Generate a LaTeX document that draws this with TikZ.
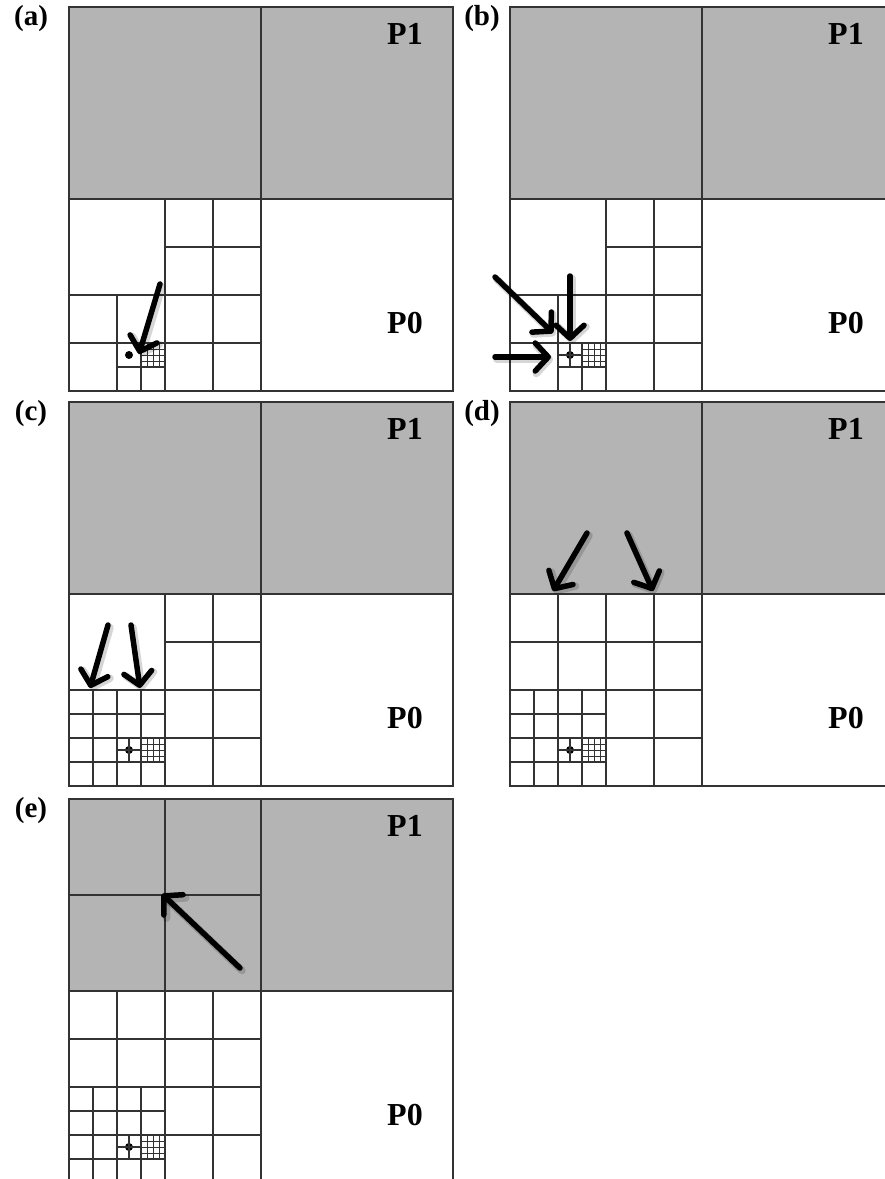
\documentclass[tikz,border=0pt]{standalone}
\usepackage{fontspec}
\setmainfont{Liberation Serif}
\usetikzlibrary{arrows.meta}
\definecolor{pgray}{HTML}{B4B4B4}
\definecolor{gline}{HTML}{333333}
\tikzset{
  gridline/.style={draw=gline, line width=1.1bp},
  bigarrow/.style={draw=black, line width=5.5bp, line cap=round, -{Straight Barb[length=13bp,width=28bp,round]}},
  shadowarrow/.style={draw=black, opacity=0.16, line width=7.5bp, line cap=round, -{Straight Barb[length=13bp,width=28bp,round]}},
  plabel/.style={font=\fontsize{32bp}{36bp}\selectfont\bfseries, inner sep=0pt},
  tlabel/.style={font=\fontsize{29bp}{34bp}\selectfont\bfseries, inner sep=0pt},
}
% base panel: #1 = name suffix, #2 = label text, #3 = label x offset
\newcommand\basepanel[3]{%
  \fill[pgray] (0,0) rectangle (384,192);
  \draw[gridline] (0,0) rectangle (384,384);
  \draw[gridline] (192,0) -- (192,384) (0,192) -- (384,192);
  \draw[gridline] (96,192) -- (96,384) (0,288) -- (192,288)
     (144,192) -- (144,384) (96,240) -- (192,240) (0,336) -- (192,336)
     (48,288) -- (48,384) (72,336) -- (72,384) (48,360) -- (96,360);
  \draw[gridline, line width=0.9bp] (78,336) -- (78,360) (84,336) -- (84,360) (90,336) -- (90,360)
     (72,342) -- (96,342) (72,348) -- (96,348) (72,354) -- (96,354);
  \fill[black] (60,348) circle (4bp);
  \node[plabel] (P1#1) at (336,27) {P1};
  \node[plabel] (P0#1) at (336,316) {P0};
  \node[tlabel] (lab#1) at (#3,12) {#2};
}
\newcommand\dotsplit{\draw[gridline] (60,336) -- (60,360) (48,348) -- (72,348);}
\newcommand\csplit{\draw[gridline] (24,288) -- (24,384) (72,288) -- (72,336) (0,312) -- (96,312) (0,360) -- (48,360);}
\newcommand\dsplit{\draw[gridline] (48,192) -- (48,288) (0,240) -- (96,240);}
\newcommand\esplit{\draw[gridline] (96,0) -- (96,192) (0,96) -- (192,96);}
\newcommand\bigarr[2]{%
  \draw[shadowarrow] ([shift={(2,2.5)}]#1) -- ([shift={(2,2.5)}]#2);
  \draw[bigarrow] (#1) -- (#2);}
\begin{document}
\begin{tikzpicture}[x=1bp, y=-1bp]
\useasboundingbox (0,0) rectangle (885,1179);
\clip (0,0) rectangle (885,1179);
\fill[white] (0,0) rectangle (885,1179);
% (a)
\begin{scope}[shift={(69,7)}]
  \basepanel{a}{(a)}{-38}
  \coordinate (a1s) at (91,277); \coordinate (a1e) at (70,347);
  \bigarr{a1s}{a1e}
\end{scope}
% (b)
\begin{scope}[shift={(510,7)}]
  \basepanel{b}{(b)}{-28}
  \dotsplit
  \coordinate (b1s) at (-15,270); \coordinate (b1e) at (43,326);
  \coordinate (b2s) at (60,269); \coordinate (b2e) at (60,334);
  \coordinate (b3s) at (-15,350); \coordinate (b3e) at (41,350);
  \bigarr{b1s}{b1e}
  \bigarr{b2s}{b2e}
  \bigarr{b3s}{b3e}
\end{scope}
% (c)
\begin{scope}[shift={(69,402)}]
  \basepanel{c}{(c)}{-38}
  \dotsplit\csplit
  \coordinate (c1s) at (39,223); \coordinate (c1e) at (21,286);
  \coordinate (c2s) at (62,223); \coordinate (c2e) at (71,286);
  \bigarr{c1s}{c1e}
  \bigarr{c2s}{c2e}
\end{scope}
% (d)
\begin{scope}[shift={(510,402)}]
  \basepanel{d}{(d)}{-28}
  \dotsplit\csplit\dsplit
  \coordinate (d1s) at (77,131); \coordinate (d1e) at (43,189);
  \coordinate (d2s) at (117,131); \coordinate (d2e) at (143,189);
  \bigarr{d1s}{d1e}
  \bigarr{d2s}{d2e}
\end{scope}
% (e)
\begin{scope}[shift={(69,799)}]
  \basepanel{e}{(e)}{-38}
  \dotsplit\csplit\dsplit\esplit
  \coordinate (e1s) at (171,169); \coordinate (e1e) at (93,95);
  \bigarr{e1s}{e1e}
\end{scope}
\end{tikzpicture}
\end{document}
